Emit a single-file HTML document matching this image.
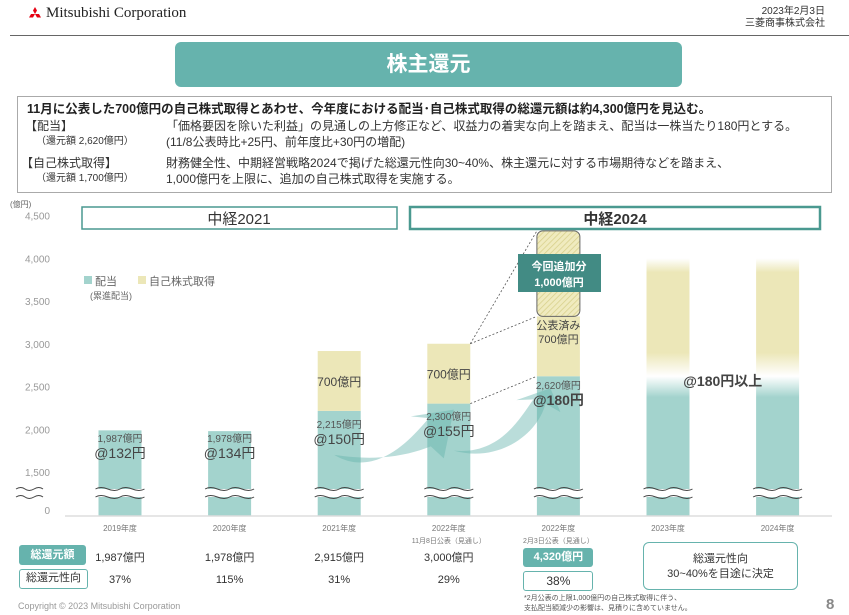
<!DOCTYPE html>
<html><head><meta charset="utf-8">
<style>
*{margin:0;padding:0;box-sizing:border-box}
body{width:849px;height:615px;background:#fff;font-family:"Liberation Sans","Noto Sans CJK JP",sans-serif;position:relative;overflow:hidden;color:#333}
.abs{position:absolute}
</style></head><body>
<div class="abs" style="left:27px;top:5px;font-family:'Liberation Serif','Noto Serif CJK SC',serif;font-size:15px;color:#222;display:flex;align-items:center">
<svg width="16" height="14" viewBox="0 0 16 14" style="margin-right:3px"><polygon points="8,0 10,3.5 8,7 6,3.5" fill="#e60012"/><polygon points="8,7 4,7 2,10.5 6,10.5" fill="#e60012"/><polygon points="8,7 12,7 14,10.5 10,10.5" fill="#e60012"/></svg>Mitsubishi Corporation</div>
<div class="abs" style="right:24px;top:6px;font-size:10px;text-align:right;line-height:12px;color:#333">2023年2月3日<br>三菱商事株式会社</div>
<div class="abs" style="left:10px;top:35px;width:843px;height:1px;background:#666"></div>
<div class="abs" style="left:175px;top:42px;width:507px;height:45px;background:#66b3ad;border-radius:6px;color:#fff;font-size:21px;font-weight:bold;text-align:center;line-height:45px">株主還元</div>
<div class="abs" style="left:17px;top:96px;width:815px;height:97px;border:1px solid #aaa;font-size:12px;line-height:16px;color:#333">
<div style="position:absolute;left:9px;top:4px;font-weight:bold;font-size:12.5px;color:#222">11月に公表した700億円の自己株式取得とあわせ、今年度における配当･自己株式取得の総還元額は約4,300億円を見込む。</div>
<div style="position:absolute;left:7px;top:21px">【配当】</div>
<div style="position:absolute;left:18px;top:37px;font-size:10px">（還元額 2,620億円）</div>
<div style="position:absolute;left:148px;top:21px">「価格要因を除いた利益」の見通しの上方修正など、収益力の着実な向上を踏まえ、配当は一株当たり180円とする。<br>(11/8公表時比+25円、前年度比+30円の増配)</div>
<div style="position:absolute;left:3px;top:58px">【自己株式取得】</div>
<div style="position:absolute;left:18px;top:74px;font-size:10px">（還元額 1,700億円）</div>
<div style="position:absolute;left:148px;top:58px">財務健全性、中期経営戦略2024で掲げた総還元性向30~40%、株主還元に対する市場期待などを踏まえ、<br>1,000億円を上限に、追加の自己株式取得を実施する。</div>
</div>

<svg class="abs" style="left:0;top:0" width="849" height="615" id="chart">
<defs>
<pattern id="hatch" width="4" height="4" patternUnits="userSpaceOnUse" patternTransform="rotate(45)"><rect width="4" height="4" fill="#f0ebbf"/><line x1="0" y1="0" x2="0" y2="4" stroke="#d7cf8a" stroke-width="1.5"/></pattern>
<linearGradient id="gY" x1="0" y1="0" x2="0" y2="1"><stop offset="0" stop-color="#ece7b8" stop-opacity="0"/><stop offset="0.12" stop-color="#ece7b8"/><stop offset="0.8" stop-color="#ece7b8"/><stop offset="1" stop-color="#fff"/></linearGradient>
<linearGradient id="gT" x1="0" y1="0" x2="0" y2="1"><stop offset="0" stop-color="#fff"/><stop offset="0.15" stop-color="#a3d3cd"/><stop offset="1" stop-color="#a3d3cd"/></linearGradient>
</defs>
<text x="10" y="207" font-size="8" fill="#666">(億円)</text>
<rect x="82" y="207" width="315" height="22" fill="#fff" stroke="#4a9990" stroke-width="1.5"/>
<text x="239" y="224" font-size="15" text-anchor="middle" fill="#333">中経2021</text>
<rect x="410" y="207" width="410" height="22" fill="#fff" stroke="#4a9990" stroke-width="2.5"/>
<text x="615" y="224" font-size="15" font-weight="bold" text-anchor="middle" fill="#333">中経2024</text>
<g id="ticks"></g>
<g id="bars"></g>
<line x1="65" y1="516" x2="832" y2="516" stroke="#ddd" stroke-width="1.5"/>
<rect x="84" y="276" width="8" height="8" fill="#a3d3cd"/>
<text x="95" y="285" font-size="11" fill="#666">配当</text>
<rect x="138" y="276" width="8" height="8" fill="#ece7b8"/>
<text x="149" y="285" font-size="11" fill="#666">自己株式取得</text>
<text x="90" y="299" font-size="9" fill="#666">(累進配当)</text>
</svg>

<div class="abs" style="left:19px;top:545px;width:67px;height:20px;background:#66b3ad;border-radius:3px;color:#fff;font-size:11px;font-weight:bold;text-align:center;line-height:20px">総還元額</div>
<div class="abs" style="left:19px;top:569px;width:69px;height:20px;border:1.5px solid #66b3ad;border-radius:3px;font-size:11px;text-align:center;line-height:17px">総還元性向</div>
<div id="rows"></div>
<div class="abs" style="left:643px;top:542px;width:155px;height:48px;border:1.5px solid #66b3ad;border-radius:6px;font-size:11px;text-align:center;line-height:15px;padding-top:9px">総還元性向<br>30~40%を目途に決定</div>
<div class="abs" style="left:524px;top:594px;font-size:7px;color:#555;line-height:10px">*2月公表の上限1,000億円の自己株式取得に伴う、<br>支払配当額減少の影響は、見積りに含めていません。</div>
<div class="abs" style="left:18px;top:601px;font-size:9px;color:#999">Copyright © 2023 Mitsubishi Corporation</div>
<div class="abs" style="left:826px;top:596px;font-size:15px;font-weight:bold;color:#888">8</div>

<script>
const categories=["2019年度","2020年度","2021年度","2022年度","2022年度","2023年度","2024年度"];
const subLabels=["","","","11月8日公表（見通し）","2月3日公表（見通し）","",""];
const dividends=[1987,1978,2215,2300,2620,2620,2620];
const buybacks=[0,0,700,700,700,1380,1380];
const additional=[0,0,0,0,1000,0,0];
const divLabels=["1,987億円","1,978億円","2,215億円","2,300億円","2,620億円","",""];
const dpsLabels=["@132円","@134円","@150円","@155円","@180円","@180円以上",""];
const totals=["1,987億円","1,978億円","2,915億円","3,000億円","4,320億円"];
const ratios=["37%","115%","31%","29%","38%"];
const tickValues=[0,1500,2000,2500,3000,3500,4000,4500];
const tickLabels=["0","1,500","2,000","2,500","3,000","3,500","4,000","4,500"];

const NS="http://www.w3.org/2000/svg";
function y(v){return v>=1500?472-(v-1500)*0.0855:516-(v/1500)*44;}
function xc(i){return 120+i*109.6;}
const BW=43;
function el(tag,attrs,parent,text){const e=document.createElementNS(NS,tag);for(const k in attrs)e.setAttribute(k,attrs[k]);if(text!==undefined)e.textContent=text;parent.appendChild(e);return e;}
const tg=document.getElementById('ticks'),bg=document.getElementById('bars');
tickValues.forEach((v,i)=>{
 const t=el('text',{x:50,y:(v===0?510:y(v))+4,'font-size':10,fill:'#999','text-anchor':'end'},tg,tickLabels[i]);
 
 
});
categories.forEach((c,i)=>{
 const x=xc(i)-BW/2, d=dividends[i], b=buybacks[i], a=additional[i];
 const grad=i>=5;
 const r1=el('rect',{x:x,y:y(d),width:BW,height:516-y(d),fill:grad?'url(#gT)':'#a3d3cd'},bg);
 
 
 if(b>0){const r2=el('rect',{x:x,y:y(d+b),width:BW,height:y(d)-y(d+b),fill:grad?'url(#gY)':'#ece7b8'},bg);
 
 }
 if(a>0){const r3=el('rect',{x:x,y:y(d+b+a),width:BW,height:y(d+b)-y(d+b+a),rx:6,fill:'url(#hatch)',stroke:'#666','stroke-width':1},bg);
 
 }
 el('rect',{x:x-3,y:489,width:BW+6,height:8,fill:'#fff'},bg);
 [489,497].forEach(yy=>el('path',{d:`M${x-3} ${yy} q5 -3 ${(BW+6)/4} 0 t${(BW+6)/4} 0 t${(BW+6)/4} 0 t${(BW+6)/4} 0`,fill:'none',stroke:'#444','stroke-width':1},bg));
 const xl=el('text',{x:xc(i),y:531,'font-size':8,fill:'#777','text-anchor':'middle'},bg,c);
 
 
 if(subLabels[i])el('text',{x:xc(i),y:543,'font-size':7,fill:'#777','text-anchor':'middle'},bg,subLabels[i]);
});
[489,497].forEach(yy=>el('path',{d:`M16 ${yy} q5 -3 9 0 t9 0 t9 0`,fill:'none',stroke:'#444','stroke-width':1},bg));
const ar1=el('path',{d:`M${xc(2)-5} ${y(1700)} C ${xc(2)+40} ${y(1500)+10}, ${xc(3)-30} ${y(2000)}, ${xc(3)-20} ${y(2130)} L ${xc(3)-38} ${y(2150)} L ${xc(3)+5} ${y(2230)} L ${xc(3)-5} ${y(1660)} L ${xc(3)-18} ${y(1800)} C ${xc(3)-40} ${y(1700)}, ${xc(2)+40} ${y(1620)}, ${xc(2)-5} ${y(1700)}Z`,fill:'#66b3ad','fill-opacity':0.45},bg);


const ar2=el('path',{d:`M${xc(3)+5} ${y(1750)} C ${xc(3)+50} ${y(1700)}, ${xc(4)-40} ${y(2100)}, ${xc(4)-25} ${y(2350)} L ${xc(4)-42} ${y(2340)} L ${xc(4)-8} ${y(2480)} L ${xc(4)+2} ${y(2200)} L ${xc(4)-13} ${y(2300)} C ${xc(4)-20} ${y(1950)}, ${xc(3)+50} ${y(1600)}, ${xc(3)+5} ${y(1750)}Z`,fill:'#66b3ad','fill-opacity':0.45},bg);


const divY=[442,442,428,420,389];
divLabels.forEach((t,i)=>{if(t)el('text',{x:xc(i),y:divY[i],'font-size':10,fill:'#555','text-anchor':'middle'},bg,t);});
dpsLabels.forEach((t,i)=>{if(!t)return;
 const big=i===4||i===5;
 const yy=i===5?y(2620)+10:divY[i]+16;
 const xx=i===5?(xc(5)+xc(6))/2:xc(i);
 el('text',{x:xx,y:yy,'font-size':big?14:14,'font-weight':big?'bold':'normal',fill:'#444','text-anchor':'middle'},bg,t);});
[2,3].forEach(i=>el('text',{x:xc(i),y:y(dividends[i]+buybacks[i]/2)+5,'font-size':12,fill:'#444','text-anchor':'middle'},bg,'700億円'));
el('text',{x:xc(4),y:y(3150)-2,'font-size':11,fill:'#444','text-anchor':'middle'},bg,'公表済み');
el('text',{x:xc(4),y:y(3150)+12,'font-size':11,fill:'#444','text-anchor':'middle'},bg,'700億円');
const dl=[[xc(3)+BW/2,y(3000),xc(4)-BW/2,y(4320)],[xc(3)+BW/2,y(3000),xc(4)-BW/2,y(3320)],[xc(3)+BW/2,y(2300),xc(4)-BW/2,y(2620)]];
dl.forEach(l=>el('line',{x1:l[0],y1:l[1],x2:l[2],y2:l[3],stroke:'#555','stroke-dasharray':'2,2','stroke-width':0.8},bg));
const cb=el('rect',{x:518,y:254,width:83,height:38,fill:'#428b84'},bg);


el('text',{x:559,y:270,'font-size':11,'font-weight':'bold',fill:'#fff','text-anchor':'middle'},bg,'今回追加分');
el('text',{x:559,y:286,'font-size':11,'font-weight':'bold',fill:'#fff','text-anchor':'middle'},bg,'1,000億円');
const rows=document.getElementById('rows');
totals.forEach((t,i)=>{
 const d=document.createElement('div');d.className='abs';
 
 
 const hl=i===4;
 d.style.cssText=`left:${xc(i)-35}px;top:${hl?548:549}px;width:70px;height:19px;text-align:center;font-size:11px;line-height:19px;${hl?'background:#66b3ad;color:#fff;font-weight:bold;border-radius:3px;':''}`;
 d.textContent=t;rows.appendChild(d);
 const r=document.createElement('div');r.className='abs';
 
 
 r.style.cssText=`left:${xc(i)-35}px;top:571px;width:70px;height:20px;text-align:center;font-size:${hl?12:11}px;line-height:18px;${hl?'border:1.5px solid #66b3ad;border-radius:3px;':''}`;
 r.textContent=ratios[i];rows.appendChild(r);
});
</script>
</body></html>
